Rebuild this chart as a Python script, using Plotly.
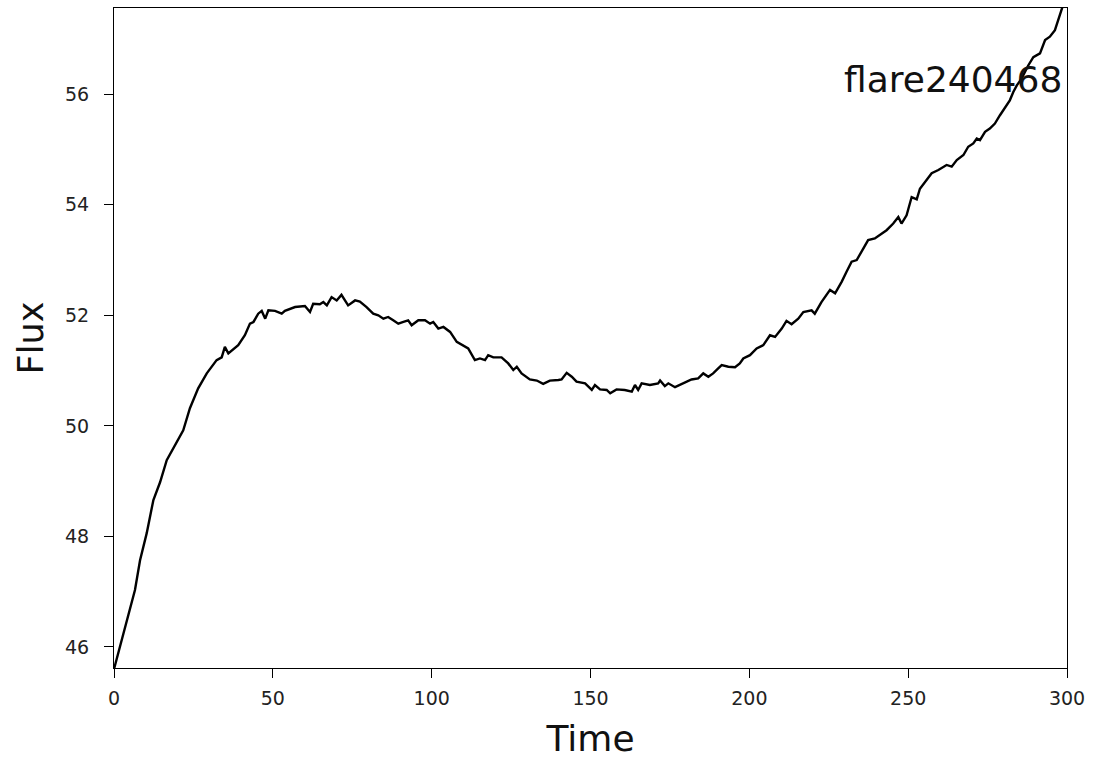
import plotly.graph_objects as go

time = [0.0, 4.0, 6.6, 8.2, 10.3, 12.4, 14.5, 16.6, 19.7, 21.8, 23.9, 26.5, 29.2, 32.3, 33.9, 34.9,
        36.0, 39.1, 41.2, 42.8, 43.9, 45.4, 46.5, 47.6, 48.6, 50.7, 52.8, 53.8, 57.0, 60.1, 61.7,
        62.7, 64.8, 65.9, 67.0, 68.5, 70.1, 71.6, 73.7, 75.9, 77.4, 79.5, 81.6, 83.2, 84.8, 86.3,
        87.9, 89.5, 91.1, 92.6, 93.7, 95.8, 97.9, 99.5, 100.5, 102.1, 103.7, 105.8, 107.9, 111.5,
        113.6, 115.2, 116.8, 117.8, 119.4, 122.0, 124.1, 125.7, 126.8, 128.3, 130.9, 133.1, 135.1,
        137.2, 139.9, 140.9, 142.5, 144.1, 145.6, 148.3, 150.4, 151.4, 153.0, 155.1, 156.2, 158.2,
        160.8, 163.0, 164.0, 165.0, 166.1, 168.7, 171.3, 171.9, 173.4, 174.5, 176.6, 178.7, 180.8,
        181.8, 183.9, 185.5, 187.1, 188.6, 190.2, 191.3, 193.4, 195.5, 197.0, 198.1, 200.2, 202.3,
        204.4, 206.5, 208.1, 210.2, 211.7, 213.3, 215.4, 217.0, 219.6, 220.6, 222.7, 225.4, 227.0,
        229.1, 230.6, 232.2, 233.8, 235.3, 237.4, 239.5, 241.1, 243.2, 245.3, 246.9, 247.9, 249.5,
        251.1, 252.7, 253.7, 255.3, 257.4, 259.5, 262.1, 263.7, 265.3, 267.4, 268.9, 270.5, 271.6,
        272.6, 274.2, 275.7, 277.3, 278.9, 280.5, 282.0, 283.1, 284.2, 285.7, 287.8, 289.4, 291.5,
        293.1, 294.6, 296.2, 297.3, 298.4, 299.5]

flux = [45.60, 46.49, 47.03, 47.57, 48.06, 48.66, 48.98, 49.38, 49.69, 49.92, 50.32, 50.68, 50.95,
        51.19, 51.24, 51.43, 51.31, 51.46, 51.64, 51.85, 51.88, 52.03, 52.08, 51.94, 52.09, 52.08,
        52.03, 52.08, 52.15, 52.17, 52.06, 52.21, 52.20, 52.24, 52.18, 52.33, 52.27, 52.37, 52.18,
        52.27, 52.25, 52.15, 52.03, 52.00, 51.94, 51.97, 51.91, 51.85, 51.88, 51.91, 51.82, 51.91,
        51.91, 51.85, 51.88, 51.76, 51.79, 51.70, 51.52, 51.40, 51.19, 51.22, 51.19, 51.28, 51.24,
        51.24, 51.13, 51.01, 51.07, 50.95, 50.84, 50.82, 50.76, 50.82, 50.83, 50.84, 50.96, 50.89,
        50.80, 50.77, 50.65, 50.74, 50.66, 50.65, 50.59, 50.66, 50.65, 50.62, 50.74, 50.65, 50.77,
        50.74, 50.77, 50.82, 50.72, 50.77, 50.70, 50.76, 50.82, 50.84, 50.86, 50.95, 50.89, 50.95,
        51.04, 51.10, 51.07, 51.06, 51.13, 51.22, 51.28, 51.40, 51.46, 51.64, 51.61, 51.76, 51.90,
        51.84, 51.94, 52.06, 52.09, 52.03, 52.24, 52.46, 52.40, 52.61, 52.79, 52.97, 53.00, 53.15,
        53.36, 53.39, 53.45, 53.54, 53.66, 53.78, 53.66, 53.81, 54.14, 54.10, 54.29, 54.41, 54.57,
        54.63, 54.72, 54.69, 54.81, 54.90, 55.05, 55.11, 55.20, 55.17, 55.32, 55.38, 55.47, 55.62,
        55.77, 55.89, 56.04, 56.16, 56.28, 56.52, 56.67, 56.74, 56.98, 57.04, 57.16, 57.34, 57.55,
        57.75]

x_ticks = [0, 50, 100, 150, 200, 250, 300]
y_ticks = [46, 48, 50, 52, 54, 56]
label = "flare240468"

fig = go.Figure()
fig.add_trace(go.Scatter(x=time, y=flux, mode="lines",
                         line=dict(color="black", width=2.4), showlegend=False))

axis_common = dict(showline=True, linecolor="black", linewidth=1.2, mirror=True,
                   ticks="outside", ticklen=9, tickwidth=1.2, tickcolor="black",
                   showgrid=False, zeroline=False,
                   tickfont=dict(family="DejaVu Sans", size=19, color="#222222"))

fig.update_xaxes(range=[0, 300], tickvals=x_ticks, ticktext=[str(v) for v in x_ticks],
                 ticklabelstandoff=4,
                 title=dict(text="Time", font=dict(family="DejaVu Sans", size=36, color="#111111"),
                            standoff=17),
                 **axis_common)
fig.update_yaxes(range=[45.62, 57.56], tickvals=y_ticks, ticktext=[str(v) for v in y_ticks],
                 ticklabelstandoff=11,
                 title=dict(text="Flux", font=dict(family="DejaVu Sans", size=35, color="#111111"),
                            standoff=10),
                 **axis_common)

fig.add_annotation(text=label, xref="paper", yref="paper", x=0.997, y=0.891,
                   xanchor="right", yanchor="middle", showarrow=False,
                   font=dict(family="DejaVu Sans", size=36, color="#111111"))

fig.update_layout(width=1093, height=761, paper_bgcolor="white", plot_bgcolor="white",
                  margin=dict(l=114, r=26, t=8, b=93, autoexpand=False))

fig.write_html("out.html")
